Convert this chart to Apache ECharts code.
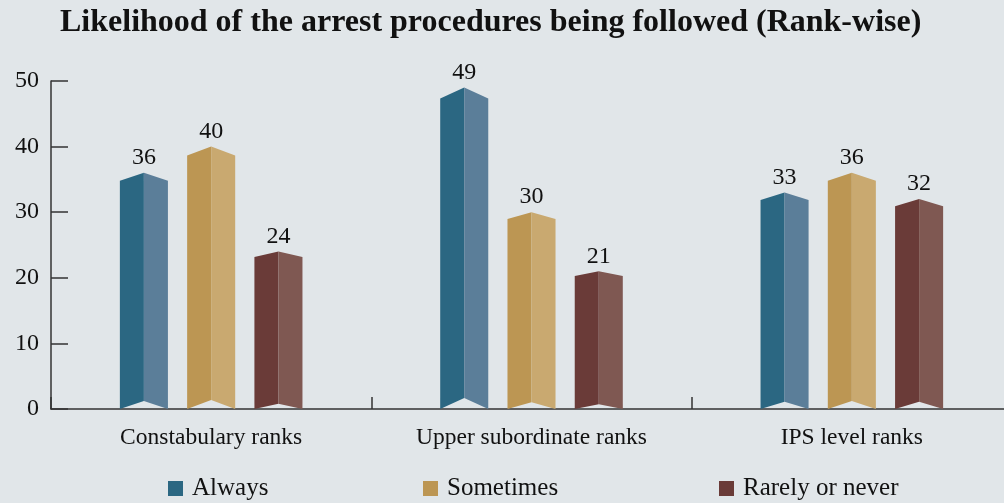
<!DOCTYPE html>
<html>
<head>
<meta charset="utf-8">
<script src="https://cdn.jsdelivr.net/npm/echarts@6/dist/echarts.min.js"></script>
<style>
  html, body { margin: 0; padding: 0; background: #e1e6e9; }
  #chart { width: 1004px; height: 503px; }
</style>
</head>
<body>
<div id="chart"></div>
<script>
// Survey results: likelihood of arrest procedures being followed, by rank group
const categories = ['Constabulary ranks', 'Upper subordinate ranks', 'IPS level ranks'];
const always = [36, 49, 33];
const sometimes = [40, 30, 36];
const rarely = [24, 21, 32];
const seriesNames = ['Always', 'Sometimes', 'Rarely or never'];
const yMin = 0, yMax = 50, yStep = 10;

// two-tone faces for each prism bar: [shaded face, lit face]
const faces = [
  ['#2b6782', '#5b7e99'],
  ['#bc9653', '#c9a970'],
  ['#6a3b38', '#7f5852']
];

const FONT = 'Liberation Serif';

function prismItem(params, api) {
  const idx = api.value(0);
  const val = api.value(1);
  const band = api.size([1, 0])[0];
  const off = (params.seriesIndex - 1) * band * 0.21;
  const hw = band * 0.15 / 2;
  const top = api.coord([idx, val]);
  const base = api.coord([idx, 0]);
  const cx = top[0] + off;
  const h = base[1] - top[1];
  const d = h * 0.034;
  const c = faces[params.seriesIndex];
  return {
    type: 'group',
    children: [
      {
        type: 'polygon',
        shape: { points: [[cx - hw, top[1] + d], [cx, top[1]], [cx, base[1] - d], [cx - hw, base[1]]] },
        style: { fill: c[0] }
      },
      {
        type: 'polygon',
        shape: { points: [[cx, top[1]], [cx + hw, top[1] + d], [cx + hw, base[1]], [cx, base[1] - d]] },
        style: { fill: c[1] }
      },
      {
        type: 'text',
        style: {
          text: String(val), x: cx, y: top[1] - 3,
          align: 'center', verticalAlign: 'bottom',
          fontSize: 24, fontFamily: FONT, fill: '#111'
        }
      }
    ]
  };
}

function makeSeries(name, values, i) {
  return {
    name: name,
    type: 'custom',
    renderItem: prismItem,
    itemStyle: { color: faces[i][0] },
    encode: { x: 0, y: 1 },
    data: values.map((v, k) => [k, v])
  };
}

function legendAt(name, left) {
  return {
    data: [name],
    left: left,
    top: 476,
    padding: 0,
    icon: 'rect',
    itemWidth: 15,
    itemHeight: 15,
    selectedMode: false,
    textStyle: { fontFamily: FONT, fontSize: 25, color: '#111', padding: [0, 0, 0, 4] }
  };
}

const chart = echarts.init(document.getElementById('chart'), null, { renderer: 'canvas' });
chart.setOption({
  backgroundColor: '#e1e6e9',
  animation: false,
  title: {
    text: 'Likelihood of the arrest procedures being followed (Rank-wise)',
    left: 60,
    top: 7,
    padding: 0,
    textStyle: { fontFamily: FONT, fontWeight: 'bold', fontSize: 32, color: '#111' }
  },
  legend: [
    legendAt(seriesNames[0], 168),
    legendAt(seriesNames[1], 423),
    legendAt(seriesNames[2], 719)
  ],
  // the plot area runs a little past the right edge of the canvas
  grid: { left: 51, width: 961, top: 81, bottom: 94, containLabel: false, outerBoundsMode: 'none' },
  xAxis: {
    type: 'category',
    data: categories,
    boundaryGap: true,
    axisLine: { lineStyle: { color: '#333', width: 1.5 } },
    axisTick: { show: true, inside: true, length: 12, interval: 0, lineStyle: { color: '#333', width: 1.5 } },
    axisLabel: { margin: 17, fontFamily: FONT, fontSize: 23.5, color: '#111', interval: 0 },
    splitLine: { show: false }
  },
  yAxis: {
    type: 'value',
    min: yMin,
    max: yMax,
    interval: yStep,
    axisLine: { show: true, lineStyle: { color: '#333', width: 1.5 } },
    axisTick: { show: true, inside: true, length: 17, lineStyle: { color: '#333', width: 1.5 } },
    axisLabel: { margin: 12, fontFamily: FONT, fontSize: 24, color: '#111' },
    splitLine: { show: false }
  },
  series: [
    makeSeries(seriesNames[0], always, 0),
    makeSeries(seriesNames[1], sometimes, 1),
    makeSeries(seriesNames[2], rarely, 2)
  ]
});
</script>
</body>
</html>
